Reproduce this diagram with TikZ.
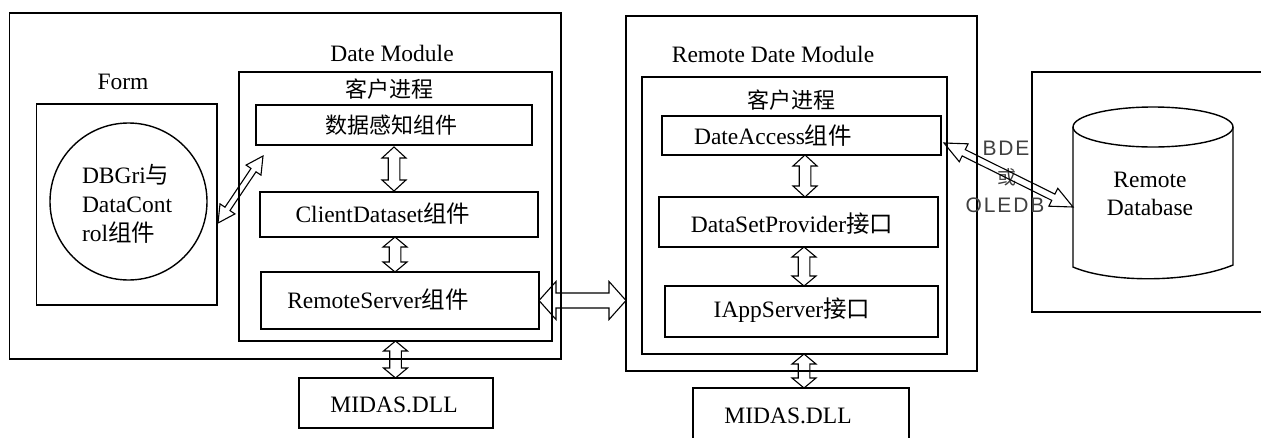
\documentclass[tikz,border=0pt]{standalone}
\usepackage{fontspec}
\setmainfont{Liberation Serif}
\newfontfamily\cjk{Noto Sans CJK SC}
\newfontfamily\thinsans{Liberation Sans}[LetterSpace=9]
\usetikzlibrary{calc}

% hollow two-headed block arrow: from, to, head length, head half width, shaft half width
\newcommand\hollowarrow[5]{%
  \draw[arrowline] (#1)
    -- ($(#1)!#3!(#2)!#4!90:(#2)$) -- ($(#1)!#3!(#2)!#5!90:(#2)$)
    -- ($(#2)!#3!(#1)!#5!-90:(#1)$) -- ($(#2)!#3!(#1)!#4!-90:(#1)$)
    -- (#2)
    -- ($(#2)!#3!(#1)!#4!90:(#1)$) -- ($(#2)!#3!(#1)!#5!90:(#1)$)
    -- ($(#1)!#3!(#2)!#5!-90:(#2)$) -- ($(#1)!#3!(#2)!#4!-90:(#2)$)
    -- cycle;}

\tikzset{
  box/.style={draw, line width=1.6pt, inner sep=0pt, outer sep=0pt},
  lbl/.style={inner sep=0pt, outer sep=0pt, font=\fontsize{23.5}{28}\selectfont},
  zh/.style={inner sep=0pt, outer sep=0pt, font=\fontsize{22}{26}\selectfont\cjk},
  link/.style={inner sep=0pt, outer sep=0pt, text=black!75, font=\fontsize{21}{25}\selectfont\thinsans},
  arrowline/.style={draw, line width=1.1pt, line join=miter},
  dbline/.style={draw, line width=1.4pt}
}

\begin{document}
\begin{tikzpicture}[x=1pt, y=-1pt]
\useasboundingbox (0,0) rectangle (1261,437);

% ---- client side ----
\node[box, minimum width=551.5pt, minimum height=346pt] (outerL) at (285.25,186) {};
\node[box, minimum width=180.5pt, minimum height=201pt] (formBox) at (126.75,204.5) {};
\node[draw, circle, line width=1.4pt, minimum size=157pt, inner sep=0pt] (grid) at (128.5,201.5) {};
\node[box, minimum width=313pt, minimum height=269pt] (clientL) at (395.5,206.5) {};
\node[box, minimum width=276pt, minimum height=40pt] (sense) at (394,125) {};
\node[box, minimum width=278pt, minimum height=45pt] (cds) at (399,214.5) {};
\node[box, minimum width=278pt, minimum height=57pt] (rsrv) at (400,300.5) {};
\node[box, minimum width=194pt, minimum height=50pt] (midasL) at (396,403) {};

\node[lbl, anchor=base] (tForm) at (123,89) {Form};
\node[lbl, anchor=base] (tDM) at (392,61) {Date Module};
\node[zh] (tProcL) at (389,89) {客户进程};
\node[zh] (tSense) at (391,125) {数据感知组件};
\node[lbl, anchor=base] (tCds) at (383,222) {ClientDataset{\cjk 组件}};
\node[lbl, anchor=base] (tRsrv) at (378,308) {RemoteServer{\cjk 组件}};
\node[lbl, anchor=base] (tMidasL) at (394,412) {MIDAS.DLL};
\node[lbl, anchor=base west] (tGrid1) at (82,183) {DBGri{\cjk 与}};
\node[lbl, anchor=base west] (tGrid2) at (82,212) {DataCont};
\node[lbl, anchor=base west] (tGrid3) at (82,241) {rol{\cjk 组件}};

% ---- application server side ----
\node[box, minimum width=351pt, minimum height=355pt] (outerR) at (801.5,193.5) {};
\node[box, minimum width=305pt, minimum height=277pt] (clientR) at (794.5,215.5) {};
\node[box, minimum width=279pt, minimum height=39pt] (dacc) at (801.5,135.5) {};
\node[box, minimum width=279pt, minimum height=50pt] (dsp) at (798.5,222) {};
\node[box, minimum width=273pt, minimum height=51pt] (iapp) at (801.5,311.5) {};
\node[box, minimum width=216pt, minimum height=62pt] (midasR) at (801,419) {};

\node[lbl, anchor=base] (tRDM) at (773,62) {Remote Date Module};
\node[zh] (tProcR) at (791,100) {客户进程};
\node[lbl, anchor=base] (tDacc) at (773,144) {DateAccess{\cjk 组件}};
\node[lbl, anchor=base] (tDsp) at (792,232) {DataSetProvider{\cjk 接口}};
\node[lbl, anchor=base] (tIapp) at (792,317) {IAppServer{\cjk 接口}};
\node[lbl, anchor=base] (tMidasR) at (788,423) {MIDAS.DLL};

% ---- database server ----
\node[box, minimum width=233pt, minimum height=240pt] (dbBox) at (1148.5,192) {};
\draw[dbline] (1073,127) -- (1073,267) .. controls (1110,283) and (1190,283) .. (1233,265) -- (1233,127);
\draw[dbline] (1153,127) ellipse [x radius=80pt, y radius=20pt];
\node[lbl, anchor=base] (tDb1) at (1150,187) {Remote};
\node[lbl, anchor=base] (tDb2) at (1150,215) {Database};
\coordinate (dbL) at (1073,207);

\node[link, anchor=base] (tBde) at (1006,155) {BDE};
\node[zh, text=black!75, font=\fontsize{19}{22}\selectfont\cjk] (tOr) at (1007,177) {或};
\node[link, anchor=base] (tOle) at (1005,212) {OLEDB};

% ---- connectors ----
\coordinate (formR) at ($(formBox.east)+(1,18.5)$);
\coordinate (senseL) at (263,156);
\hollowarrow{formR}{senseL}{17pt}{9pt}{3pt}

\coordinate (a1t) at ($(sense.south)+(0,2)$);
\coordinate (a1b) at ($(sense.south |- cds.north)+(0,-1)$);
\hollowarrow{a1t}{a1b}{11pt}{12pt}{5.8pt}
\coordinate (a2t) at ($(cds.south)+(-4,0)$);
\coordinate (a2b) at ($(rsrv.north)+(-5,0)$);
\hollowarrow{a2t}{a2b}{10pt}{12pt}{5.8pt}
\coordinate (a3t) at (clientL.south);
\coordinate (a3b) at ($(midasL.north)+(-0.5,0)$);
\hollowarrow{a3t}{a3b}{10pt}{12pt}{5.8pt}

\coordinate (hr) at (rsrv.east -| outerR.west);
\hollowarrow{rsrv.east}{hr}{17pt}{19pt}{7.5pt}

\coordinate (b1t) at ($(dacc.south)+(3.5,0)$);
\coordinate (b1b) at ($(dsp.north)+(6.5,0)$);
\hollowarrow{b1t}{b1b}{11pt}{12pt}{5.8pt}
\coordinate (b2t) at ($(dsp.south)+(5.5,0)$);
\coordinate (b2b) at ($(iapp.north)+(2.5,0)$);
\hollowarrow{b2t}{b2b}{10pt}{12pt}{5.8pt}
\coordinate (b3t) at ($(clientR.south)+(9.5,0)$);
\coordinate (b3b) at ($(midasR.north)+(3,0)$);
\hollowarrow{b3t}{b3b}{10pt}{12pt}{5.8pt}

\coordinate (daccR) at ($(dacc.east)+(3,7.5)$);
\hollowarrow{daccR}{dbL}{22pt}{10pt}{3.5pt}
\end{tikzpicture}
\end{document}
